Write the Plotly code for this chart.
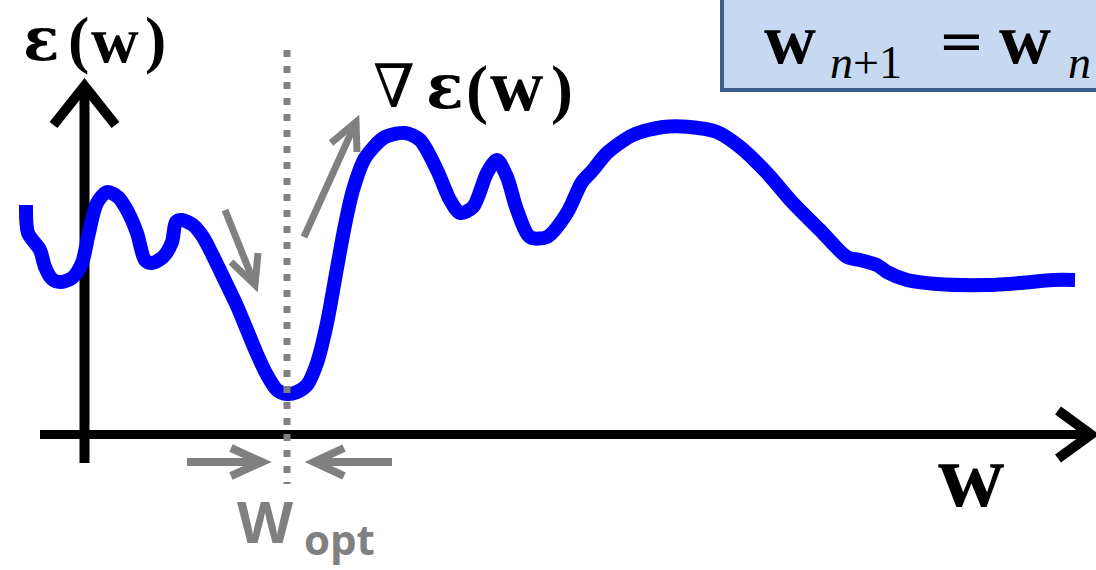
import plotly.graph_objects as go

# ---- data: error surface e(w) (x = w, y = e(w) in drawing units, y grows downward)
w_values = [26, 28, 40, 45, 52, 60, 72, 82, 88, 97, 107, 118, 128, 137, 145, 152, 163, 172,
            176, 182, 193, 203, 213, 227, 237, 247, 257, 267, 277, 287, 297, 307, 317, 327,
            337, 345, 353, 365, 385, 405, 420, 437, 450, 460, 473, 487, 497, 507, 517, 530,
            547, 567, 582, 593, 607, 633, 663, 690, 717, 740, 767, 793, 820, 847, 860, 877,
            887, 907, 937, 987, 1020, 1053, 1075]
error_values = [205, 233, 250, 267, 279, 282, 278, 263, 237, 203, 192, 197, 212, 233, 260, 263,
                257, 242, 222, 220, 225, 237, 256, 285, 306, 330, 354, 375, 390, 394, 392, 385,
                363, 323, 268, 225, 190, 158, 137, 133, 140, 170, 200, 213, 207, 173, 160, 177,
                210, 237, 237, 213, 182, 170, 153, 135, 127, 127, 132, 147, 173, 203, 230, 257,
                260, 265, 272, 280, 284, 285, 283, 280, 280]

w_opt = 287            # position of the optimum (dotted line)
axis_origin = (84.5, 434.5)

# ---- layout constants
W, H = 1096, 570
GRAY = "#808080"
BLUE = "#0000ff"
DEJAVU = "DejaVu Serif, Liberation Serif, serif"
TIMES = "Liberation Serif, DejaVu Serif, serif"
SANS = "Open Sans, Liberation Sans, sans-serif"

fig = go.Figure()

# error curve
fig.add_trace(go.Scatter(x=w_values, y=error_values, mode="lines",
                         line=dict(color=BLUE, width=14, shape="spline", smoothing=0.8),
                         hoverinfo="skip", showlegend=False))

shapes = []
ox, oy = axis_origin
# axes (below curve)
shapes.append(dict(type="line", x0=ox, x1=ox, y0=463, y1=86, line=dict(color="black", width=10), layer="below"))
shapes.append(dict(type="path", path=f"M {ox-31},{125} L {ox},{86} L {ox+31},{125}",
                   line=dict(color="black", width=10), layer="below"))
shapes.append(dict(type="line", x0=40, x1=1091, y0=oy, y1=oy, line=dict(color="black", width=9), layer="below"))
shapes.append(dict(type="path", path=f"M 1058,{oy-24} L 1091,{oy} L 1058,{oy+24}",
                   line=dict(color="black", width=10), layer="below"))

# dotted optimum line (above curve)
shapes.append(dict(type="line", x0=w_opt, x1=w_opt, y0=50, y1=484,
                   line=dict(color=GRAY, width=7, dash="7px,9px"), layer="above"))


def gray_arrow(x0, y0, x1, y1, a1, a2, width=7):
    shapes.append(dict(type="line", x0=x0, y0=y0, x1=x1, y1=y1,
                       line=dict(color=GRAY, width=width), layer="above"))
    shapes.append(dict(type="path", path=f"M {a1[0]},{a1[1]} L {x1},{y1} L {a2[0]},{a2[1]}",
                       line=dict(color=GRAY, width=width), layer="above"))


# descent arrow
gray_arrow(225, 210, 255, 285, (231, 262), (258, 253))
# gradient arrow
gray_arrow(304, 237, 356, 122, (331, 143), (357, 152))
# converging arrows
gray_arrow(187, 462, 262, 462, (231, 448), (231, 476), width=8)
gray_arrow(392, 462, 314, 462, (344, 448), (344, 476), width=8)

# formula box
shapes.append(dict(type="rect", x0=722, x1=1130, y0=-10, y1=90,
                   fillcolor="#c6d9f1", line=dict(color="#3d5d8e", width=4), layer="above"))

ann = []


def text(x, y, s, size, color="black", family=TIMES, xanchor="left", yanchor="middle"):
    ann.append(dict(x=x, y=y, xref="x", yref="y", text=s, showarrow=False,
                    xanchor=xanchor, yanchor=yanchor,
                    font=dict(family=family, size=size, color=color)))


# ε(w) axis label, glyph by glyph
text(41, 39, "<b>ε</b>", 60, family=DEJAVU, xanchor="center")
text(78, 39, "<b>(</b>", 64, xanchor="center")
text(115, 39, "<b>w</b>", 66, xanchor="center")
text(155, 39, "<b>)</b>", 64, xanchor="center")
# ∇ε(w) gradient label
text(394, 86, "∇", 60, family=DEJAVU, xanchor="center")
text(445, 86, "<b>ε</b>", 62, family=DEJAVU, xanchor="center")
text(477, 89, "<b>(</b>", 66, xanchor="center")
text(517, 85, "<b>w</b>", 74, xanchor="center")
text(562, 89, "<b>)</b>", 66, xanchor="center")
# w axis label
text(971, 475, "<b>w</b>", 92, xanchor="center")
# W_opt
text(235, 520, "<b>W</b>", 58, color=GRAY, family=SANS)
text(302, 538, "<b>opt</b>", 42, color=GRAY, family=SANS)
# formula
text(790, 39, "<b>w</b>", 72, xanchor="center")
text(828, 62, "<i>n</i>+1", 46)
text(936, 40, "=", 56, family=DEJAVU)
text(1025, 39, "<b>w</b>", 72, xanchor="center")
text(1066, 62, "<i>n</i>", 46)

fig.update_layout(
    width=W, height=H, margin=dict(l=0, r=0, t=0, b=0),
    paper_bgcolor="white", plot_bgcolor="white",
    xaxis=dict(range=[0, W], visible=False, fixedrange=True),
    yaxis=dict(range=[H, 0], visible=False, fixedrange=True),
    shapes=shapes, annotations=ann, showlegend=False,
)

fig.write_html("out.html", config={"displayModeBar": False},
               post_script="document.body.style.margin='0';document.body.style.overflow='hidden';")
